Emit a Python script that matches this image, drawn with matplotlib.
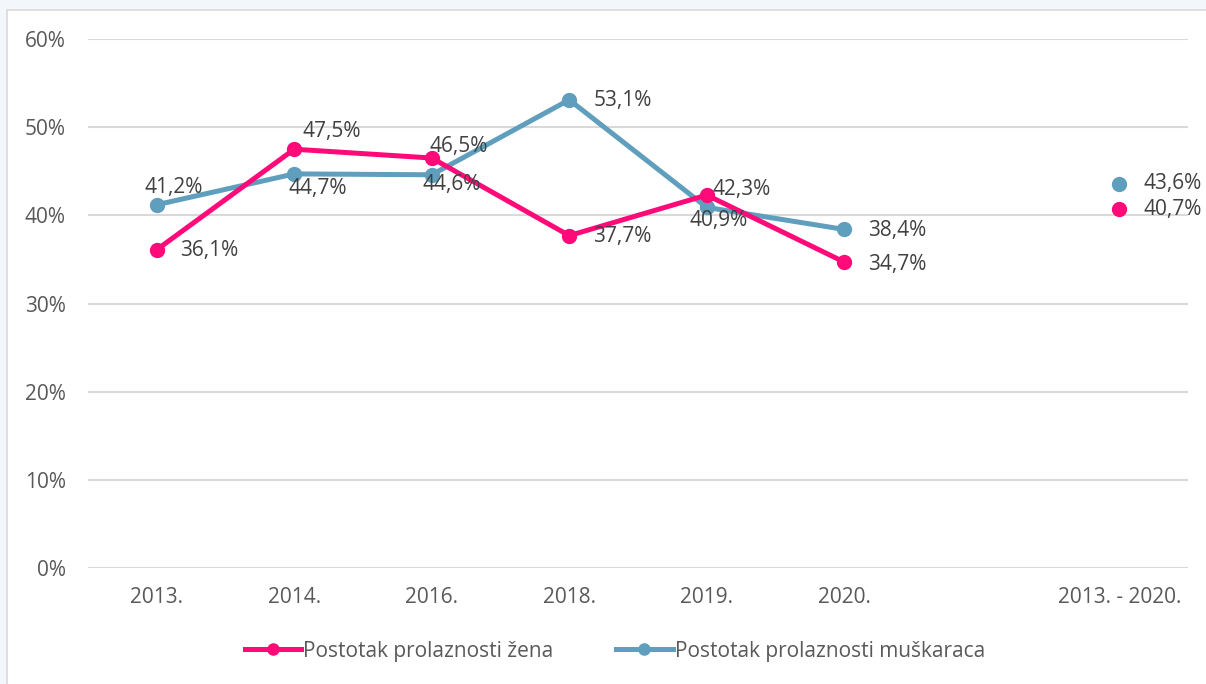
import matplotlib.pyplot as plt
from matplotlib.patches import Rectangle
from matplotlib.lines import Line2D

plt.rcParams['font.family'] = ['Open Sans', 'DejaVu Sans']

# categories (one empty slot before the summary column)
categories = ["2013.", "2014.", "2016.", "2018.", "2019.", "2020.", "", "2013. - 2020."]
zene = [36.1, 47.5, 46.5, 37.7, 42.3, 34.7, None, 40.7]
muskarci = [41.2, 44.7, 44.6, 53.1, 40.9, 38.4, None, 43.6]

# label offsets in pixels (dx to left edge, dy)
zene_off = [(23, -1), (8, 18), (-2, 12), (24, -1), (6, 6), (24, -2), None, (24, 0)]
musk_off = [(-12, 17), (-6, -15), (-9, -10), (24, -1), (-17, -13), (24, -1), None, (24, 0)]

red = '#FF0A78'
blue = '#5F9EBC'
txt = '#595959'
lbl = '#404040'
fs = 15

fig = plt.figure(figsize=(12.06, 6.84), dpi=100, facecolor='#f3f7fb')
fig.patches.append(Rectangle((7/1206, -0.1), 1.2, 1 - 10/684 + 0.1, transform=fig.transFigure,
                             facecolor='white', edgecolor='#d9d9d9', lw=1.2, zorder=-10))
ax = fig.add_axes([88/1206, 1 - 568/684, 1100/1206, 529/684])
ax.set_facecolor('none')

x_main = list(range(6))
ax.plot(x_main, [v/100 for v in zene[:6]], color=red, lw=3.6, marker='o', ms=10,
        solid_capstyle='round', zorder=3)
ax.plot(x_main, [v/100 for v in muskarci[:6]], color=blue, lw=3.6, marker='o', ms=10,
        solid_capstyle='round', zorder=2)
ax.plot([7], [zene[7]/100], color=red, marker='o', ms=10, ls='none', zorder=3)
ax.plot([7], [muskarci[7]/100], color=blue, marker='o', ms=10, ls='none', zorder=2)

for vals, offs in ((zene, zene_off), (muskarci, musk_off)):
    for i, v in enumerate(vals):
        if v is None:
            continue
        dx, dy = offs[i]
        ax.annotate(f"{v:.1f}%".replace('.', ','), (i, v/100), xytext=(dx*0.72, dy*0.72),
                    textcoords='offset points', ha='left', va='center', fontsize=fs,
                    color=lbl, zorder=5)

ax.set_xlim(-0.5, 7.5)
ax.set_ylim(0, 0.6)
ax.set_yticks([0, 0.1, 0.2, 0.3, 0.4, 0.5, 0.6])
ax.set_yticklabels([f"{int(round(t*100))}%" for t in ax.get_yticks()])
ax.set_xticks(range(len(categories)))
ax.set_xticklabels(categories)
ax.tick_params(axis='both', length=0, labelsize=fs, labelcolor=txt)
ax.tick_params(axis='y', pad=16)
ax.tick_params(axis='x', pad=14)
ax.grid(axis='y', color='#d9d9d9', lw=1.5)
ax.set_axisbelow(True)
for s in ax.spines.values():
    s.set_visible(False)

handles = [Line2D([], [], color=red, lw=3.6, marker='o', ms=8),
           Line2D([], [], color=blue, lw=3.6, marker='o', ms=8)]
fig.legend(handles, ["Postotak prolaznosti žena", "Postotak prolaznosti muškaraca"],
           loc='center', bbox_to_anchor=(615/1206, 1 - 651/684), ncol=2, frameon=False,
           fontsize=fs, labelcolor=txt, handlelength=2.7, handletextpad=0.1,
           columnspacing=3.0)

fig.savefig('out.png', dpi=100, facecolor=fig.get_facecolor())
